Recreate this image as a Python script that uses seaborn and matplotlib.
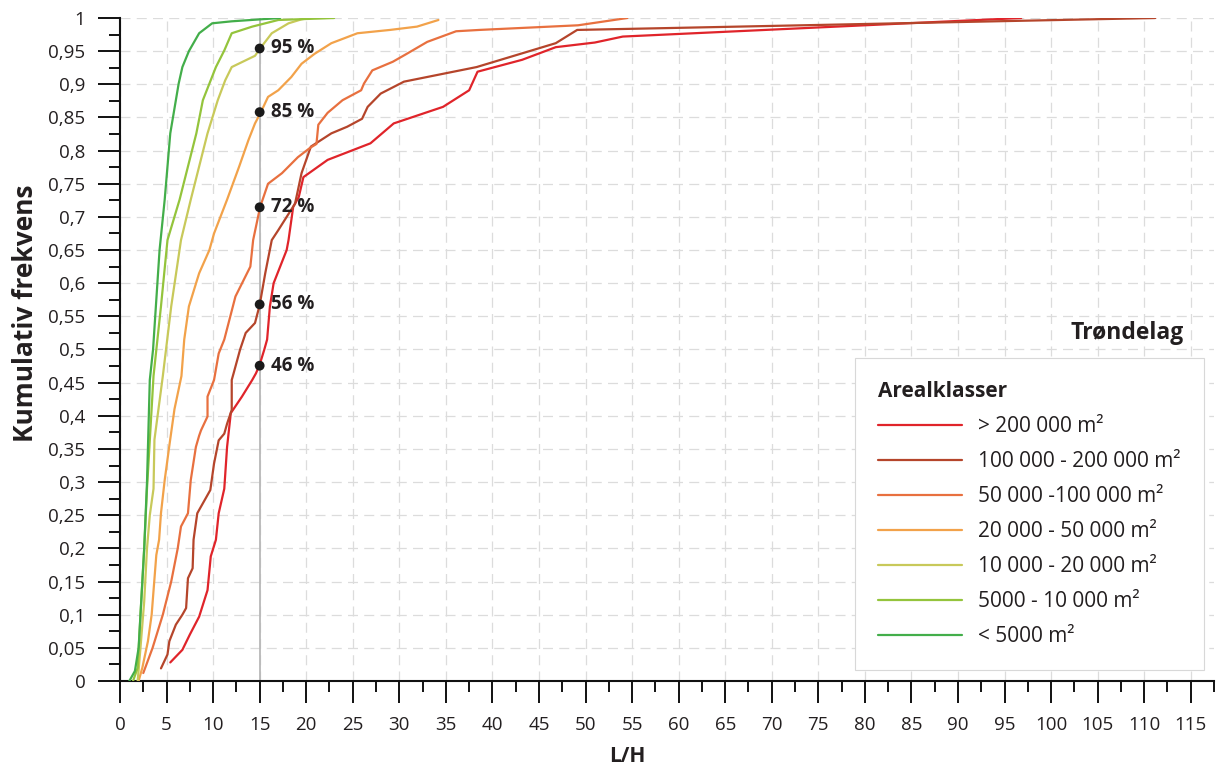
import numpy as np
import pandas as pd
import matplotlib
matplotlib.use("Agg")
import matplotlib.pyplot as plt
import seaborn as sns

# ---------------- data ----------------
classes = ["> 200 000 m²", "100 000 - 200 000 m²", "50 000 -100 000 m²",
           "20 000 - 50 000 m²", "10 000 - 20 000 m²", "5000 - 10 000 m²", "< 5000 m²"]
colors = ["#e0242a", "#b5452b", "#e8703f", "#f2a24a", "#c8c95a", "#94c43c", "#43ae4a"]

red_x = [5.4, 6.7, 7.5, 8.5, 9.4, 9.75, 10.3, 10.6, 11.2, 11.5, 11.9, 13.1, 14.2, 14.6, 15.0,
         15.5, 15.8, 16.1, 16.5, 17.9, 18.1, 18.6, 19.2, 19.7, 22.3, 26.9, 29.4, 34.7, 37.5,
         38.4, 43.2, 46.8, 51.0, 54.0, 96.8]
red_y = [0.028, 0.047, 0.07, 0.097, 0.137, 0.188, 0.213, 0.253, 0.29, 0.353, 0.404, 0.429,
         0.454, 0.464, 0.477, 0.50, 0.515, 0.565, 0.60, 0.65, 0.665, 0.715, 0.73, 0.76, 0.786,
         0.811, 0.841, 0.866, 0.891, 0.919, 0.937, 0.956, 0.963, 0.972, 1.0]

brown_x = [4.4, 5.1, 5.3, 6.0, 6.7, 7.1, 7.3, 7.8, 7.9, 8.3, 9.7, 10.1, 10.6, 11.2, 11.5, 12.0,
           12.0, 12.2, 12.9, 13.5, 14.5, 15.0, 15.6, 16.3, 17.0, 18.8, 19.5, 20.5, 22.7, 24.4,
           26.0, 26.6, 28.0, 30.5, 38.3, 46.8, 49.1, 111.2]
brown_y = [0.019, 0.04, 0.06, 0.085, 0.10, 0.11, 0.155, 0.17, 0.213, 0.253, 0.288, 0.328,
           0.363, 0.373, 0.388, 0.409, 0.454, 0.464, 0.50, 0.525, 0.54, 0.567, 0.615, 0.665,
           0.68, 0.72, 0.766, 0.806, 0.826, 0.836, 0.848, 0.866, 0.886, 0.904, 0.926, 0.962,
           0.982, 1.0]

salmon_x = [2.5, 3.5, 4.6, 5.5, 6.2, 6.55, 7.3, 7.6, 8.15, 8.5, 8.7, 9.4, 9.4, 10.1, 10.6,
            11.2, 12.4, 14.0, 14.3, 15.05, 15.9, 17.4, 19.1, 20.4, 21.1, 21.3, 22.3, 23.9,
            25.9, 26.2, 27.1, 29.3, 30.8, 33.0, 36.1, 38.6, 49.2, 54.5]
salmon_y = [0.012, 0.05, 0.10, 0.15, 0.20, 0.233, 0.253, 0.303, 0.353, 0.37, 0.378, 0.399,
            0.429, 0.454, 0.494, 0.515, 0.58, 0.625, 0.665, 0.715, 0.75, 0.766, 0.79, 0.804,
            0.81, 0.839, 0.857, 0.876, 0.891, 0.901, 0.921, 0.934, 0.946, 0.964, 0.98, 0.982,
            0.989, 1.0]

orange_x = [2.0, 2.4, 3.0, 3.4, 3.9, 4.2, 4.4, 4.8, 5.3, 5.85, 6.6, 6.9, 7.4, 8.5, 9.6, 10.1,
            11.5, 12.8, 13.8, 14.5, 15.1, 15.9, 17.0, 18.4, 19.5, 20.9, 22.7, 25.5, 29.0,
            31.9, 34.2]
orange_y = [0.0, 0.02, 0.06, 0.10, 0.19, 0.213, 0.253, 0.303, 0.355, 0.41, 0.46, 0.515,
            0.565, 0.615, 0.65, 0.675, 0.726, 0.776, 0.816, 0.841, 0.857, 0.881, 0.891,
            0.911, 0.931, 0.946, 0.962, 0.977, 0.982, 0.987, 0.997]

yellow_x = [1.9, 2.2, 2.6, 2.9, 3.2, 3.6, 3.7, 4.6, 5.5, 6.55, 7.6, 8.5, 9.4, 10.5, 11.3, 12.0,
            14.5, 15.1, 16.3, 18.1, 19.5, 20.3]
yellow_y = [0.0, 0.05, 0.12, 0.2, 0.25, 0.29, 0.364, 0.46, 0.565, 0.665, 0.726, 0.776, 0.826,
            0.876, 0.906, 0.926, 0.943, 0.955, 0.977, 0.992, 0.998, 1.0]

lgreen_x = [1.4, 1.9, 2.2, 2.6, 2.9, 3.6, 4.4, 5.1, 6.4, 7.3, 8.2, 8.9, 10.3, 11.2, 12.0, 14.2,
            17.0, 23.0]
lgreen_y = [0.0, 0.02, 0.1, 0.2, 0.29, 0.46, 0.565, 0.665, 0.726, 0.776, 0.826, 0.876, 0.926,
            0.951, 0.977, 0.987, 0.997, 1.0]

dgreen_x = [1.0, 1.6, 2.0, 2.4, 2.6, 2.9, 3.2, 3.55, 4.25, 4.8, 5.4, 6.3, 6.7, 7.4, 8.5, 9.9,
            12.0, 17.2]
dgreen_y = [0.0, 0.015, 0.05, 0.15, 0.2, 0.3, 0.454, 0.5, 0.65, 0.726, 0.826, 0.901, 0.926,
            0.95, 0.977, 0.992, 0.995, 1.0]

marker_x = [15, 15, 15, 15, 15]
marker_y = [0.954, 0.858, 0.7145, 0.568, 0.4756]
marker_labels = ["95 %", "85 %", "72 %", "56 %", "46 %"]

x_ticks = list(range(0, 116, 5))
y_ticks = [0, 0.05, 0.1, 0.15, 0.2, 0.25, 0.3, 0.35, 0.4, 0.45, 0.5, 0.55, 0.6, 0.65, 0.7,
           0.75, 0.8, 0.85, 0.9, 0.95, 1.0]
y_tick_labels = ["0", "0,05", "0,1", "0,15", "0,2", "0,25", "0,3", "0,35", "0,4", "0,45",
                 "0,5", "0,55", "0,6", "0,65", "0,7", "0,75", "0,8", "0,85", "0,9", "0,95", "1"]

# ---------------- build table ----------------
series = [(red_x, red_y), (brown_x, brown_y), (salmon_x, salmon_y), (orange_x, orange_y),
          (yellow_x, yellow_y), (lgreen_x, lgreen_y), (dgreen_x, dgreen_y)]
frames = []
for name, (xs, ys) in zip(classes, series):
    frames.append(pd.DataFrame({"LH": xs, "F": ys, "klasse": name}))
df = pd.concat(frames, ignore_index=True)

# ---------------- style ----------------
sns.set_theme(style="white")
plt.rcParams['font.family'] = ['Open Sans', 'DejaVu Sans']
text_col = "#231f20"

fig = plt.figure(figsize=(12.3, 7.71), dpi=100)
ax = fig.add_axes([120 / 1230, 1 - 681 / 771, (1214 - 120) / 1230, 663 / 771])

ax.set_axisbelow(True)
ax.axvline(15, color="#b8b8b8", lw=1.3, zorder=1.5)

sns.lineplot(data=df, x="LH", y="F", hue="klasse", hue_order=classes, palette=colors,
             sort=False, estimator=None, linewidth=1.6, ax=ax, zorder=3)

sns.scatterplot(x=marker_x, y=marker_y, color="#1a1a1a", s=50, edgecolor="none",
                ax=ax, zorder=5, legend=False)
for mx, my, lab in zip(marker_x, marker_y, marker_labels):
    ax.annotate(lab, (mx, my), xytext=(8, 0), textcoords="offset points", ha="left",
                va="center", fontsize=13.5, fontweight="bold", color=text_col, zorder=6)

ax.set_xlim(0, 116.3)
ax.set_ylim(0, 1)
ax.set_xticks(x_ticks)
ax.set_xticklabels([str(t) for t in x_ticks])
ax.set_xticks([t + 2.5 for t in x_ticks], minor=True)
ax.set_yticks(y_ticks)
ax.set_yticklabels(y_tick_labels)
ax.set_yticks([t + 0.025 for t in y_ticks[:-1]], minor=True)

ax.grid(which="major", color="#dcdcdc", linestyle=(0, (8, 5)), linewidth=0.9)
for side in ["top", "right"]:
    ax.spines[side].set_visible(False)
for side in ["left", "bottom"]:
    ax.spines[side].set_color("#111111")
    ax.spines[side].set_linewidth(1.5)

ax.tick_params(which="major", direction="out", length=16, width=1.4, color="#111111",
               labelsize=13.5, labelcolor=text_col, pad=9, bottom=True, left=True)
ax.tick_params(which="minor", direction="out", length=8, width=1.4, color="#111111",
               bottom=True, left=True)

ax.set_xlabel("L/H", fontsize=15, fontweight="bold", color=text_col)
ax.set_ylabel("Kumulativ frekvens", fontsize=19, fontweight="bold", color=text_col)
ax.xaxis.set_label_coords(0.464, -0.098)
ax.yaxis.set_label_coords(-0.074, 0.555)

ax.text(114.2, 0.525, "Trøndelag", ha="right", va="center", fontsize=16.5,
        fontweight="bold", color=text_col)

leg = ax.legend(title="Arealklasser", loc="lower right", bbox_to_anchor=(0.9905, 0.0166),
                borderaxespad=0, fontsize=15, title_fontproperties={"weight": "bold", "size": 15},
                alignment="left", frameon=True, edgecolor="#d8d8d8", fancybox=False,
                framealpha=1, handlelength=4.0, handletextpad=0.8, labelspacing=0.67,
                borderpad=1.1)
leg.get_frame().set_linewidth(0.8)
for t in leg.get_texts():
    t.set_color(text_col)
leg.get_title().set_color(text_col)
for h in leg.get_lines():
    h.set_linewidth(1.6)

fig.savefig("out.png", dpi=100)
